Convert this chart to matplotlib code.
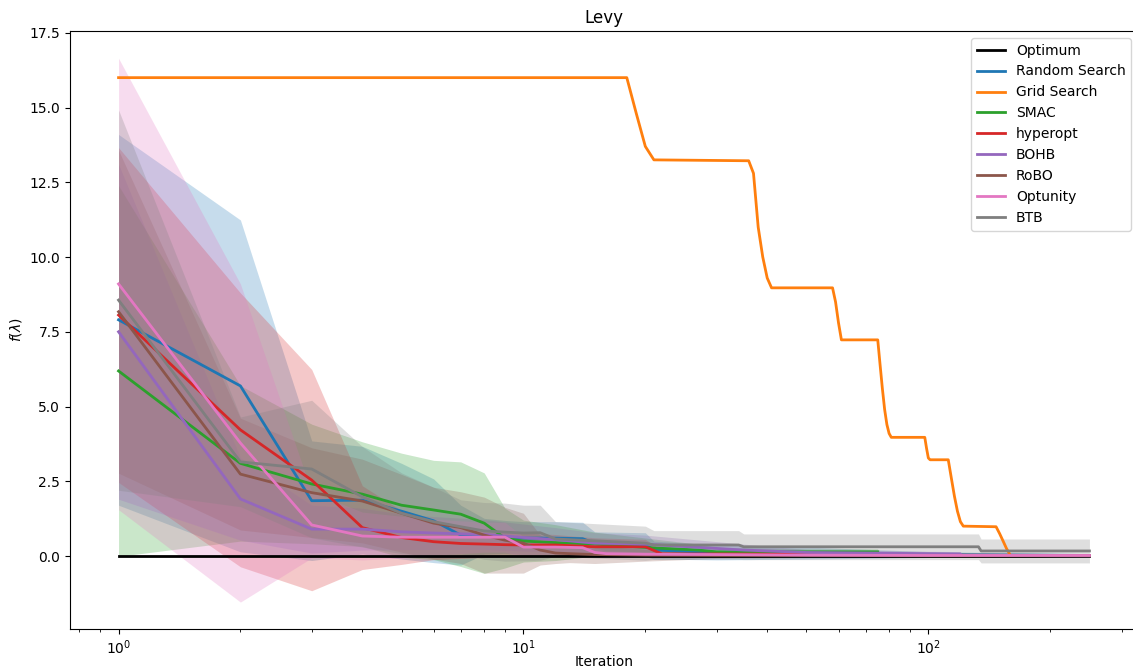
import matplotlib
matplotlib.use("Agg")
import matplotlib.pyplot as plt
import numpy as np

# values (mean and std per iteration)
opt_it = [1, 250]
opt_mean = [0.0, 0.0]

rs_it = [1, 2, 3, 4, 5, 6, 7, 8, 9, 10, 12, 14, 15, 20, 21, 30, 50, 100, 250]
rs_mean = [7.9, 5.69, 1.85, 1.87, 1.5, 1.18, 0.7, 0.66, 0.64, 0.6, 0.6, 0.58, 0.43, 0.38, 0.2, 0.12, 0.1, 0.05, 0.02]
rs_std = [6.2, 5.55, 2.0, 1.8, 1.6, 1.4, 1.0, 0.6, 0.55, 0.55, 0.55, 0.55, 0.38, 0.4, 0.3, 0.25, 0.2, 0.1, 0.05]

gs_it = [1, 18, 19, 20, 21, 36, 37, 38, 39, 40, 41, 58, 59, 60, 61, 75, 76, 77, 78, 79, 80, 81,
         98, 99, 100, 101, 112, 114, 116, 118, 120, 122, 147, 150, 153, 156, 159]
gs_mean = [16.0, 16.0, 14.8, 13.7, 13.25, 13.22, 12.8, 11.0, 10.0, 9.3, 8.97, 8.97, 8.5, 7.8, 7.23,
           7.23, 6.4, 5.6, 4.9, 4.4, 4.1, 3.97, 3.97, 3.6, 3.28, 3.22, 3.22, 2.6, 2.0, 1.5, 1.15, 1.0,
           0.98, 0.75, 0.5, 0.25, 0.05]

smac_it = [1, 2, 3, 4, 5, 6, 7, 8, 9, 10, 12, 15, 21, 27, 30, 50, 75]
smac_mean = [6.19, 3.1, 2.41, 2.07, 1.7, 1.54, 1.4, 1.1, 0.6, 0.5, 0.45, 0.4, 0.27, 0.2, 0.14, 0.14, 0.14]
smac_std = [6.2, 2.6, 2.0, 1.75, 1.74, 1.66, 1.75, 1.68, 1.0, 0.7, 0.6, 0.4, 0.3, 0.2, 0.15, 0.1, 0.1]

hy_it = [1, 2, 3, 4, 5, 6, 7, 8, 9, 10, 12, 15, 20, 22, 30, 50, 100, 250]
hy_mean = [8.06, 4.22, 2.54, 0.95, 0.62, 0.48, 0.42, 0.40, 0.38, 0.37, 0.37, 0.31, 0.31, 0.07, 0.07, 0.06, 0.03, 0.02]
hy_std = [5.6, 4.58, 3.7, 1.4, 0.9, 0.6, 0.5, 0.45, 0.4, 0.4, 0.35, 0.3, 0.25, 0.12, 0.1, 0.08, 0.05, 0.03]

bohb_it = [1, 2, 3, 4, 5, 6, 8, 10, 12, 15, 20, 35, 50, 100, 120, 121, 250]
bohb_mean = [7.5, 1.91, 0.9, 0.9, 0.81, 0.77, 0.72, 0.62, 0.55, 0.43, 0.4, 0.2, 0.12, 0.08, 0.07, 0.02, 0.01]
bohb_std = [5.6, 1.38, 0.8, 0.7, 0.6, 0.55, 0.5, 0.45, 0.4, 0.35, 0.3, 0.2, 0.1, 0.08, 0.08, 0.03, 0.03]

robo_it = [1, 2, 3, 4, 5, 6, 7, 8, 9, 10, 11, 12, 13, 15, 20, 30, 50, 100, 250]
robo_mean = [8.17, 2.74, 2.12, 1.84, 1.43, 1.1, 0.95, 0.7, 0.53, 0.43, 0.2, 0.1, 0.08, 0.05, 0.03, 0.02, 0.02, 0.01, 0.01]
robo_std = [5.4, 1.87, 1.5, 1.4, 1.3, 1.2, 1.2, 1.27, 1.1, 1.0, 0.5, 0.35, 0.3, 0.3, 0.2, 0.1, 0.08, 0.05, 0.05]

opt_un_it = [1, 2, 3, 4, 5, 6, 7, 8, 9, 10, 12, 14, 15, 16, 20, 30, 50, 100, 250]
opt_un_mean = [9.1, 3.78, 1.04, 0.67, 0.63, 0.63, 0.63, 0.63, 0.63, 0.3, 0.3, 0.28, 0.12, 0.08, 0.06, 0.05, 0.03, 0.02, 0.02]
opt_un_std = [7.55, 5.32, 1.1, 0.8, 0.7, 0.6, 0.55, 0.5, 0.5, 0.35, 0.3, 0.3, 0.15, 0.1, 0.08, 0.06, 0.05, 0.04, 0.04]

btb_it = [1, 2, 3, 4, 5, 6, 7, 8, 9, 10, 11, 12, 20, 21, 34, 35, 133, 135, 250]
btb_mean = [8.56, 3.15, 2.91, 1.98, 1.43, 1.15, 0.98, 0.84, 0.8, 0.77, 0.78, 0.57, 0.43, 0.37, 0.37, 0.31, 0.31, 0.17, 0.17]
btb_std = [6.36, 1.5, 2.3, 1.68, 1.35, 1.15, 0.9, 0.95, 0.97, 0.93, 0.92, 0.58, 0.57, 0.48, 0.48, 0.43, 0.43, 0.40, 0.40]

series = [
    ("Random Search", rs_it, rs_mean, rs_std, "tab:blue"),
    ("Grid Search", gs_it, gs_mean, None, "tab:orange"),
    ("SMAC", smac_it, smac_mean, smac_std, "tab:green"),
    ("hyperopt", hy_it, hy_mean, hy_std, "tab:red"),
    ("BOHB", bohb_it, bohb_mean, bohb_std, "tab:purple"),
    ("RoBO", robo_it, robo_mean, robo_std, "tab:brown"),
    ("Optunity", opt_un_it, opt_un_mean, opt_un_std, "tab:pink"),
    ("BTB", btb_it, btb_mean, btb_std, "tab:gray"),
]

fig = plt.figure(figsize=(11.33, 6.69), dpi=100)
ax = fig.add_axes([70 / 1133, 1 - 629 / 669, (1138 - 70) / 1133, (629 - 31) / 669])

ax.plot(opt_it, opt_mean, color="black", lw=2, label="Optimum")
for name, it, mean, std, col in series:
    it = np.array(it)
    mean = np.array(mean)
    ax.plot(it, mean, color=col, lw=2, label=name)
    if std is not None:
        std = np.array(std)
        ax.fill_between(it, mean - std, mean + std, color=col, alpha=0.25, lw=0)

ax.set_xscale("log")
ax.set_ylim(-2.44, 17.56)
ax.set_title("Levy", fontsize=12)
ax.set_xlabel("Iteration", labelpad=-2)
ax.set_ylabel(r"$f(\lambda)$")
ax.legend(loc="upper right")

fig.savefig("out.png", dpi=100)
